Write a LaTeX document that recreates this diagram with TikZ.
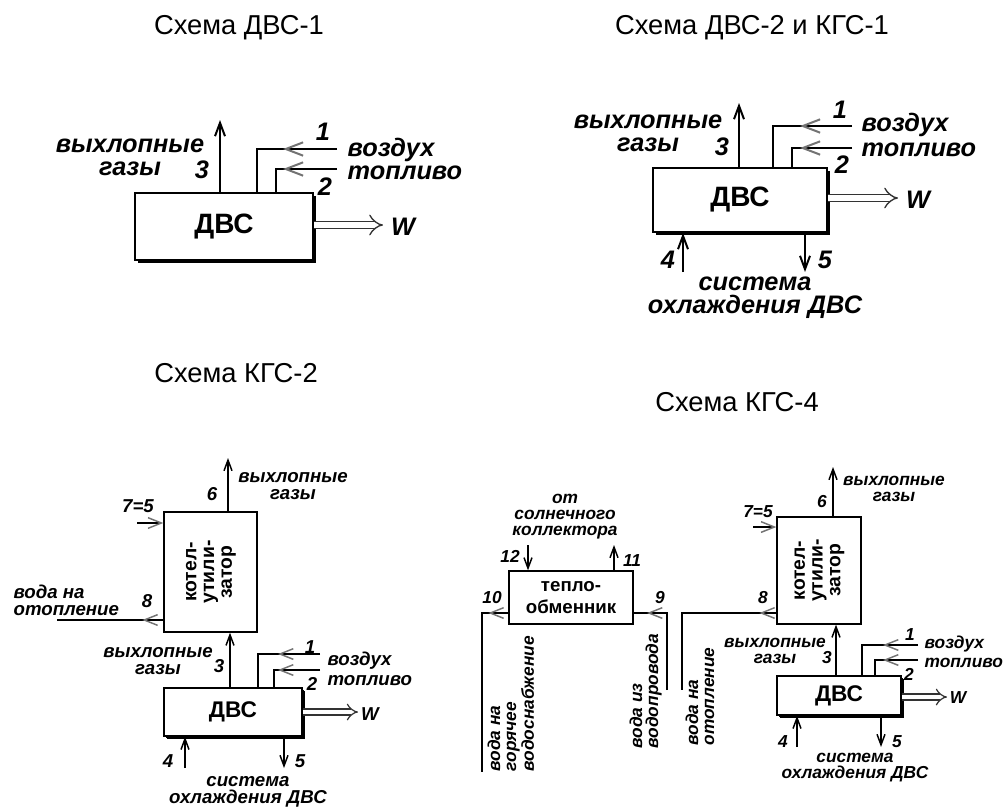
\documentclass[tikz,border=0pt]{standalone}
\usepackage{fontspec}
\setmainfont{Liberation Sans}
\newfontfamily\lblfont{Liberation Sans}
\usepackage{graphicx}
\usetikzlibrary{arrows.meta,decorations.markings,shadows}

\newcommand{\lblbig}{\lblfont\bfseries\itshape\fontsize{19}{17.5}\selectfont}
\newcommand{\lblmid}{\lblfont\bfseries\itshape\fontsize{14}{12.9}\selectfont}
\newcommand{\lblsml}{\lblfont\bfseries\itshape\fontsize{13}{12}\selectfont}
\newcommand{\kotel}{\rotatebox{90}{\fontsize{14.5}{13.3}\selectfont\begin{tabular}{@{}c@{}}котел-\\утили-\\затор\end{tabular}}}

\begin{document}
\begin{tikzpicture}[x=0.75pt, y=-0.75pt,
  dvs/.style={draw, line width=1.5pt, fill=white, font=\bfseries\fontsize{21}{23}\selectfont,
    drop shadow={shadow xshift=2.2pt, shadow yshift=-2.2pt, fill=black, opacity=1}},
  dvss/.style={dvs, line width=1.2pt, font=\bfseries\fontsize{17}{19}\selectfont,
    drop shadow={shadow xshift=1.8pt, shadow yshift=-1.8pt, fill=black, opacity=1}},
  unit/.style={draw, line width=1pt, fill=white, font=\bfseries, align=center, inner sep=0pt},
  pipe/.style={line width=1.5pt},
  pipes/.style={line width=1.1pt},
  ttl/.style={font=\fontsize{20.5}{24}\selectfont, anchor=base, inner sep=0pt},
  lb/.style={font=\lblbig, align=center, inner sep=1pt},
  lm/.style={font=\lblmid, align=center, inner sep=1pt},
  ls/.style={font=\lblsml, align=center, inner sep=1pt},
  inHead/.tip={Straight Barb[length=13pt, width=10pt, color=black!55]},
  inHeadS/.tip={Straight Barb[length=10pt, width=8pt, color=black!55]},
  exHead/.tip={Straight Barb[length=10pt, width=7.5pt]},
  exHeadS/.tip={Straight Barb[length=8pt, width=6pt]},
  intip/.style={postaction={decorate, decoration={markings, mark=at position #1 with {\arrow{inHead}}}}},
  intipS/.style={postaction={decorate, decoration={markings, mark=at position #1 with {\arrow{inHeadS}}}}},
  wline/.style={double=white, double distance=4.5pt, line width=1pt, draw=black!80, -{Implies}},
  wlines/.style={double=white, double distance=3.5pt, line width=0.9pt, draw=black!80, -{Implies}}
]
\useasboundingbox (0,0) rectangle (1006,808);

% titles
\node[ttl] (t1) at (239,34) {Схема ДВС-1};
\node[ttl] (t2) at (752,34) {Схема ДВС-2 и КГС-1};
\node[ttl] (t3) at (236,382) {Схема КГС-2};
\node[ttl] (t4) at (737,411) {Схема КГС-4};

% ДВС-1
\node[dvs, minimum width=133.5pt, minimum height=50.25pt] (dvs1) at (224,226.5) {ДВС};
\coordinate (g1) at (220,120);
\coordinate (air1) at (337,149);
\coordinate (c1a) at (257,149);
\coordinate (fuel1) at (337,169);
\coordinate (c1b) at (276,169);
\coordinate (w1) at (383,225);
\draw[pipe, -exHead] (dvs1.north -| g1) -- (g1);
\draw[pipe, intip=40.5pt] (air1) -| (c1a |- dvs1.north);
\draw[pipe, intip=40.5pt] (fuel1) -| (c1b |- dvs1.north);
\draw[wline] (dvs1.east |- w1) -- (w1);
\node[lb] (ex1) at (130,157) {выхлопные\\газы};
\node[lb, anchor=base] (n3a) at (202,178) {3};
\node[lb, anchor=base] (n1a) at (323,140) {1};
\node[lb, anchor=base] (n2a) at (325,195) {2};
\node[lb, anchor=base west] (air1t) at (346,156) {воздух};
\node[lb, anchor=base west] (fuel1t) at (346,179) {топливо};
\node[lb, anchor=base] (w1t) at (403,235) {W};

% ДВС-2 и КГС-1
\node[dvs, minimum width=130.5pt, minimum height=48pt] (dvs2) at (740,200) {ДВС};
\coordinate (g2) at (739,103);
\coordinate (air2) at (852,126);
\coordinate (c2a) at (773,126);
\coordinate (fuel2) at (852,148);
\coordinate (c2b) at (792,148);
\coordinate (w2) at (898,198);
\coordinate (cw2) at (683,272);
\coordinate (cr2) at (805,272);
\draw[pipe, -exHead] (dvs2.north -| g2) -- (g2);
\draw[pipe, intip=39pt] (air2) -| (c2a |- dvs2.north);
\draw[pipe, intip=39pt] (fuel2) -| (c2b |- dvs2.north);
\draw[wline] (dvs2.east |- w2) -- (w2);
\draw[pipe, -exHead] (cw2) -- (cw2 |- dvs2.south);
\draw[pipe, -exHead] (cr2 |- dvs2.south) -- (cr2);
\node[lb] (ex2) at (648,133) {выхлопные\\газы};
\node[lb, anchor=base] (n3b) at (722,155) {3};
\node[lb, anchor=base] (n1b) at (840,118) {1};
\node[lb, anchor=base] (n2b) at (842,173) {2};
\node[lb, anchor=base west] (air2t) at (860,131) {воздух};
\node[lb, anchor=base west] (fuel2t) at (860,156) {топливо};
\node[lb, anchor=base] (w2t) at (918,208) {W};
\node[lb, anchor=base] (n4b) at (668,268) {4};
\node[lb, anchor=base] (n5b) at (825,268) {5};
\node[lb] (cool2) at (755,298) {система\\охлаждения ДВС};

% КГС-2
\node[unit, minimum width=69.75pt, minimum height=90pt] (kot3) at (210.5,572) {\kotel};
\node[dvss, minimum width=103.5pt, minimum height=36pt] (dvs3) at (233,712) {ДВС};
\coordinate (g6c) at (228,458);
\coordinate (g3c) at (230,650);
\coordinate (in7c) at (137,523);
\coordinate (out8c) at (57,620);
\coordinate (air3) at (320,654);
\coordinate (c3a) at (258,654);
\coordinate (fuel3) at (320,670);
\coordinate (c3b) at (274,670);
\coordinate (w3) at (358,712);
\coordinate (cw3) at (185,768);
\coordinate (cr3) at (284,768);
\draw[pipes, -exHeadS] (kot3.north -| g6c) -- (g6c);
\draw[pipes, -exHeadS] (g3c |- dvs3.north) -- (g3c |- kot3.south);
\draw[pipes, -inHeadS] (in7c) -- (in7c -| kot3.west);
\draw[pipes, intipS=15.75pt] (out8c -| kot3.west) -- (out8c);
\draw[pipes, intipS=31.5pt] (air3) -| (c3a |- dvs3.north);
\draw[pipes, intipS=31.5pt] (fuel3) -| (c3b |- dvs3.north);
\draw[wlines] (dvs3.east |- w3) -- (w3);
\draw[pipes, -exHeadS] (cw3) -- (cw3 |- dvs3.south);
\draw[pipes, -exHeadS] (cr3 |- dvs3.south) -- (cr3);
\node[lm, anchor=base] (n6c) at (212,500) {6};
\node[lm] (ex3t) at (293,486) {выхлопные\\газы};
\node[lm, anchor=base] (n7c) at (138,512) {7=5};
\node[lm, anchor=base] (n8c) at (147,607) {8};
\node[lm, anchor=west, align=left] (heat3) at (12,600) {вода на\\отопление};
\node[lm, anchor=base] (n3c) at (219,672) {3};
\node[lm] (ex3) at (158,661) {выхлопные\\газы};
\node[lm, anchor=base] (n1c) at (310,653) {1};
\node[lm, anchor=base] (n2c) at (312,690) {2};
\node[lm, anchor=base west] (air3t) at (326,665) {воздух};
\node[lm, anchor=base west] (fuel3t) at (326,685) {топливо};
\node[lm, anchor=base] (w3t) at (370,720) {W};
\node[lm, anchor=base] (n4c) at (168,767) {4};
\node[lm, anchor=base] (n5c) at (300,767) {5};
\node[lm] (cool3) at (248,792) {система\\охлаждения ДВС};

% КГС-4
\node[unit, font=\bfseries\fontsize{14}{16.5}\selectfont, minimum width=93pt, minimum height=39.75pt] (hx) at (571,597.5) {тепло-\\обменник};
\coordinate (c12) at (528,545);
\coordinate (c11) at (614,545);
\coordinate (c10) at (482,613);
\coordinate (e10) at (482,772);
\coordinate (e9) at (667,690);
\coordinate (c9) at (667,613);
\draw[pipes, -exHeadS] (c12) -- (c12 |- hx.north);
\draw[pipes, -exHeadS] (c11 |- hx.north) -- (c11);
\draw[pipes, intipS=15pt] (c10 -| hx.west) -| (e10);
\draw[pipes, intipS=72.75pt] (e9) |- (c9 -| hx.east);
\node[ls] (sol) at (565,517) {от\\солнечного\\коллектора};
\node[ls, anchor=base] (n12) at (510,562) {12};
\node[ls, anchor=base] (n11) at (632,566) {11};
\node[ls, anchor=base] (n10) at (492,603) {10};
\node[ls, anchor=base] (n9) at (660,603) {9};
\node[ls, rotate=90, anchor=north west, align=left] (hw) at (486,773) {вода на\\горячее\\водоснабжение};
\node[ls, rotate=90, anchor=north west, align=left] (cw) at (628,750) {вода из\\водопровода};
\node[ls, rotate=90, anchor=north west, align=left] (heat4) at (684,747) {вода на\\отопление};

\node[unit, minimum width=63pt, minimum height=80.25pt] (kot4) at (819,570.5) {\kotel};
\node[dvss, minimum width=93pt, minimum height=29.25pt] (dvs4) at (839,695.5) {ДВС};
\coordinate (g6d) at (833,467);
\coordinate (g3d) at (836,650);
\coordinate (in7d) at (753,527);
\coordinate (c8) at (682,613);
\coordinate (e8) at (682,690);
\coordinate (air4) at (918,645);
\coordinate (c4a) at (862,645);
\coordinate (fuel4) at (918,660);
\coordinate (c4b) at (875,660);
\coordinate (w4) at (947,697);
\coordinate (cw4) at (797,747);
\coordinate (cr4) at (881,747);
\draw[pipes, -exHeadS] (kot4.north -| g6d) -- (g6d);
\draw[pipes, -exHeadS] (g3d |- dvs4.north) -- (g3d |- kot4.south);
\draw[pipes, -inHeadS] (in7d) -- (in7d -| kot4.west);
\draw[pipes, intipS=12.75pt] (c8 -| kot4.west) -| (e8);
\draw[pipes, intipS=26.25pt] (air4) -| (c4a |- dvs4.north);
\draw[pipes, intipS=26.25pt] (fuel4) -| (c4b |- dvs4.north);
\draw[wlines] (dvs4.east |- w4) -- (w4);
\draw[pipes, -exHeadS] (cw4) -- (cw4 |- dvs4.south);
\draw[pipes, -exHeadS] (cr4 |- dvs4.south) -- (cr4);
\node[ls, anchor=base] (n6d) at (822,507) {6};
\node[ls] (ex4t) at (894,489) {выхлопные\\газы};
\node[ls, anchor=base] (n7d) at (758,517) {7=5};
\node[ls, anchor=base] (n8d) at (763,603) {8};
\node[ls, anchor=base] (n3d) at (827,663) {3};
\node[ls] (ex4) at (775,651) {выхлопные\\газы};
\node[ls, anchor=base] (n1d) at (910,640) {1};
\node[ls, anchor=base] (n2d) at (909,680) {2};
\node[ls, anchor=base west] (air4t) at (923,648) {воздух};
\node[ls, anchor=base west] (fuel4t) at (923,667) {топливо};
\node[ls, anchor=base] (w4t) at (958,703) {W};
\node[ls, anchor=base] (n4d) at (783,747) {4};
\node[ls, anchor=base] (n5d) at (897,747) {5};
\node[ls] (cool4) at (855,768) {система\\охлаждения ДВС};
\end{tikzpicture}
\end{document}
